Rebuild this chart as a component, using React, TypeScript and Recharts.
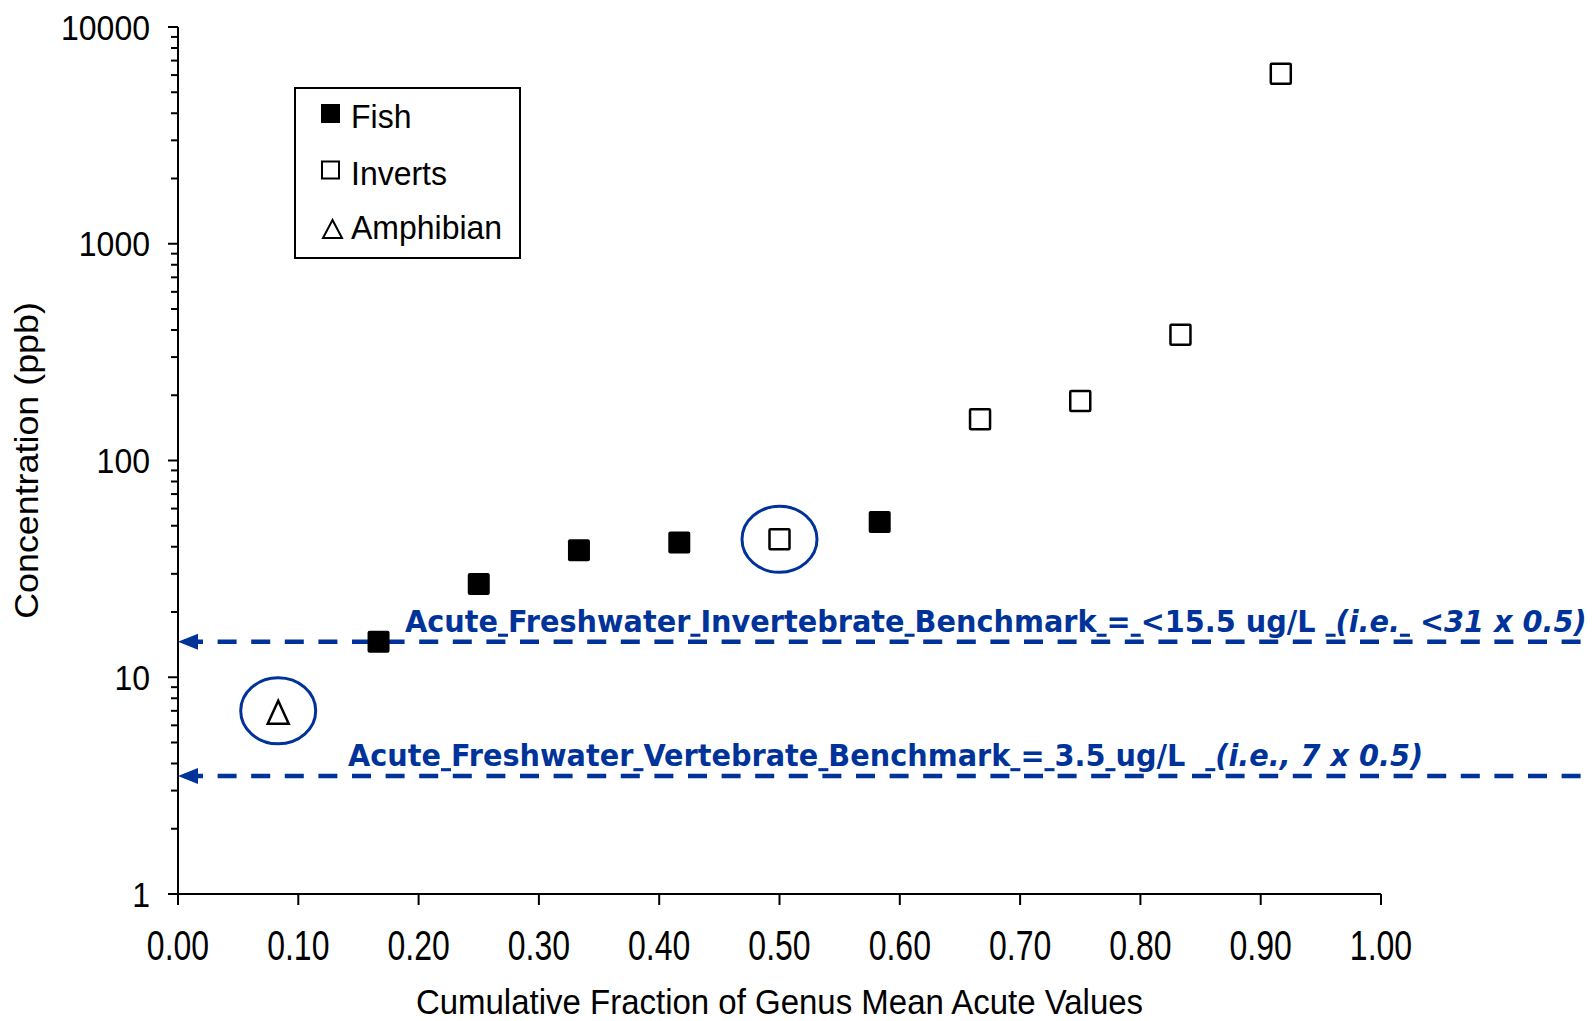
import React from "react";
import {
  ScatterChart,
  Scatter,
  XAxis,
  YAxis,
  ReferenceLine,
  ReferenceDot,
  Legend,
} from "recharts";

// ---------- data ----------
const fishFractions = [0.1667, 0.25, 0.3333, 0.4167, 0.5833];
const fishValues = [14.6, 26.9, 38.5, 41.9, 52.0];
const invertFractions = [0.5, 0.6667, 0.75, 0.8333, 0.9167];
const invertValues = [43.3, 155, 188, 380, 6090];
const amphibianFractions = [0.0833];
const amphibianValues = [7.0];

const xTicks = [0, 0.1, 0.2, 0.3, 0.4, 0.5, 0.6, 0.7, 0.8, 0.9, 1.0];
const yAllTicks = [
  1, 2, 3, 4, 5, 6, 7, 8, 9,
  10, 20, 30, 40, 50, 60, 70, 80, 90,
  100, 200, 300, 400, 500, 600, 700, 800, 900,
  1000, 2000, 3000, 4000, 5000, 6000, 7000, 8000, 9000,
  10000,
];

const invertebrateBenchmark = 14.6;
const vertebrateBenchmark = 3.5;

const seriesNames = ["Fish", "Inverts", "Amphibian"];

const toPoints = (xs: number[], ys: number[]) => xs.map((x, i) => ({ x, y: ys[i] }));
const fishData = toPoints(fishFractions, fishValues);
const invertData = toPoints(invertFractions, invertValues);
const amphibianData = toPoints(amphibianFractions, amphibianValues);

const BLUE = "#003399";
const ARIAL = "'Liberation Sans', Arial, sans-serif";
const VERDANA = "'DejaVu Sans', Verdana, sans-serif";

// ---------- shapes ----------
const FishShape = (p: any) => (
  <rect x={p.cx - 11} y={p.cy - 11} width={22} height={22} rx={2} fill="#000" />
);
const InvertShape = (p: any) => (
  <rect x={p.cx - 10} y={p.cy - 10} width={20} height={20} rx={1} fill="#fff" stroke="#000" strokeWidth={2.5} />
);
const AmphShape = (p: any) => (
  <polygon
    points={`${p.cx},${p.cy - 10} ${p.cx - 10.5},${p.cy + 13} ${p.cx + 10.5},${p.cy + 13}`}
    fill="#fff"
    stroke="#000"
    strokeWidth={2.5}
    strokeLinejoin="miter"
  />
);
const EllipseShape = (p: any) => (
  <ellipse cx={p.cx} cy={p.cy} rx={37.5} ry={33} fill="none" stroke={BLUE} strokeWidth={3} />
);

// ---------- ticks ----------
const isMajor = (v: number) => Math.abs(Math.log10(v) - Math.round(Math.log10(v))) < 1e-9;

const YTick = (props: any) => {
  const { x, y, payload } = props;
  const v = payload.value;
  const axisX = x + 28;
  const major = isMajor(v);
  return (
    <g>
      <line x1={axisX - (major ? 10 : 7)} y1={y} x2={axisX} y2={y} stroke="#000" strokeWidth={2} />
      {major && (
        <text
          transform={`translate(${x},${y}) scale(1,1.1)`}
          dy="0.355em"
          textAnchor="end"
          fontFamily={ARIAL}
          fontSize={32}
          fill="#000"
        >
          {String(v)}
        </text>
      )}
    </g>
  );
};

const XTick = (props: any) => {
  const { x, y, payload } = props;
  const axisY = y - 11;
  return (
    <g>
      <line x1={x} y1={axisY} x2={x} y2={axisY + 11} stroke="#000" strokeWidth={2} />
      <text
        transform={`translate(${x},${axisY + 66}) scale(1,1.3)`}
        textAnchor="middle"
        fontFamily={ARIAL}
        fontSize={32}
        fill="#000"
      >
        {payload.value.toFixed(2)}
      </text>
    </g>
  );
};

// ---------- titles ----------
const XTitle = (props: any) => {
  const vb = props.viewBox;
  return (
    <text
      transform={`translate(${vb.x + vb.width / 2},1014) scale(1,1.08)`}
      textAnchor="middle"
      fontFamily={ARIAL}
      fontSize={33}
      fill="#000"
    >
      Cumulative Fraction of Genus Mean Acute Values
    </text>
  );
};
const YTitle = (props: any) => {
  const vb = props.viewBox;
  const cy = vb.y + vb.height / 2;
  return (
    <text
      transform={`translate(38,${cy}) rotate(-90) scale(1.12,1.03)`}
      textAnchor="middle"
      fontFamily={ARIAL}
      fontSize={32}
      fill="#000"
    >
      Concentration (ppb)
    </text>
  );
};

// ---------- benchmark lines ----------
type Seg = { t: string; u?: boolean; i?: boolean };
const invSegs: Seg[] = [
  { t: "Acute" }, { t: " ", u: true }, { t: "Freshwater" }, { t: " ", u: true },
  { t: "Invertebrate" }, { t: " ", u: true }, { t: "Benchmark" }, { t: " ", u: true },
  { t: "=" }, { t: " ", u: true }, { t: "<15.5 ug/L " }, { t: " ", u: true },
  { t: "(i.e.", i: true }, { t: " ", u: true, i: true }, { t: " <31 x 0.5)", i: true },
];
const vertSegs: Seg[] = [
  { t: "Acute" }, { t: " ", u: true }, { t: "Freshwater" }, { t: " ", u: true },
  { t: "Vertebrate" }, { t: " ", u: true }, { t: "Benchmark" }, { t: " ", u: true },
  { t: "=" }, { t: " ", u: true }, { t: "3.5" }, { t: " ", u: true }, { t: "ug/L  " },
  { t: " ", u: true }, { t: "(i.e., 7 x 0.5)", i: true },
];

const makeBenchShape = (segs: Seg[], textDx: number) => (p: any) => {
  const { x1, y1, x2 } = p;
  return (
    <g>
      <line
        x1={x1 + 6}
        y1={y1}
        x2={x2}
        y2={y1}
        stroke={BLUE}
        strokeWidth={4.5}
        strokeDasharray="19 14.6"
      />
      <polygon points={`${x1},${y1} ${x1 + 20},${y1 - 8} ${x1 + 20},${y1 + 8}`} fill={BLUE} />
      <text
        transform={`translate(${x1 + textDx},${y1 - 10}) scale(1.027,1.1)`}
        fontFamily={VERDANA}
        fontWeight="bold"
        fontSize={28}
        fill={BLUE}
        style={{ whiteSpace: "pre" }}
      >
        {segs.map((s, k) => (
          <tspan
            key={k}
            fontStyle={s.i ? "italic" : "normal"}
            style={s.u ? { textDecoration: "underline" } : undefined}
          >
            {s.t}
          </tspan>
        ))}
      </text>
    </g>
  );
};

// ---------- legend ----------
const LegendContent = () => (
  <svg width={227} height={172} style={{ display: "block" }}>
    <rect x={1} y={1} width={225} height={170} fill="#fff" stroke="#000" strokeWidth={2} />
    <rect x={27} y={17} width={19} height={19} fill="#000" />
    <rect x={28} y={74.5} width={17} height={17} fill="#fff" stroke="#000" strokeWidth={2} />
    <polygon points="38.5,133 29,151 48,151" fill="#fff" stroke="#000" strokeWidth={2} />
    <g fontFamily={ARIAL} fontSize={32} fill="#000">
      <text transform="translate(57,41) scale(1,1.05)">{seriesNames[0]}</text>
      <text transform="translate(57,98) scale(1,1.05)">{seriesNames[1]}</text>
      <text transform="translate(57,152) scale(1,1.05)">{seriesNames[2]}</text>
    </g>
  </svg>
);

export default function App() {
  return (
    <div style={{ position: "absolute", left: 0, top: 0, background: "#fff" }}>
      <ScatterChart width={1592} height={1021} margin={{ top: 27, right: 211, bottom: 67, left: 78 }}>
        <XAxis
          type="number"
          dataKey="x"
          domain={[0, 1]}
          ticks={xTicks}
          interval={0}
          tickSize={11}
          tickMargin={0}
          tickLine={false}
          tick={<XTick />}
          height={60}
          axisLine={{ stroke: "#000", strokeWidth: 2 }}
          label={{ content: <XTitle /> } as any}
        />
        <YAxis
          type="number"
          dataKey="y"
          scale="log"
          domain={[1, 10000]}
          ticks={yAllTicks}
          interval={0}
          tickSize={10}
          tickMargin={18}
          tickLine={false}
          tick={<YTick />}
          width={100}
          allowDataOverflow
          axisLine={{ stroke: "#000", strokeWidth: 2 }}
          label={{ content: <YTitle /> } as any}
        />
        <Legend
          content={<LegendContent />}
          layout="vertical"
          align="center"
          verticalAlign="middle"
          wrapperStyle={{ position: "absolute", left: 294, top: 87, width: 227, height: 172 }}
        />
        <ReferenceLine
          segment={[{ x: 0, y: invertebrateBenchmark }, { x: 1.18, y: invertebrateBenchmark }]}
          ifOverflow="visible"
          shape={makeBenchShape(invSegs, 227)}
        />
        <ReferenceLine
          segment={[{ x: 0, y: vertebrateBenchmark }, { x: 1.18, y: vertebrateBenchmark }]}
          ifOverflow="visible"
          shape={makeBenchShape(vertSegs, 170)}
        />
        <Scatter name={seriesNames[0]} data={fishData} shape={FishShape} isAnimationActive={false} />
        <Scatter name={seriesNames[1]} data={invertData} shape={InvertShape} isAnimationActive={false} />
        <Scatter name={seriesNames[2]} data={amphibianData} shape={AmphShape} isAnimationActive={false} />
        <ReferenceDot x={amphibianFractions[0]} y={amphibianValues[0]} ifOverflow="visible" shape={EllipseShape} />
        <ReferenceDot x={invertFractions[0]} y={invertValues[0]} ifOverflow="visible" shape={EllipseShape} />
      </ScatterChart>
    </div>
  );
}
